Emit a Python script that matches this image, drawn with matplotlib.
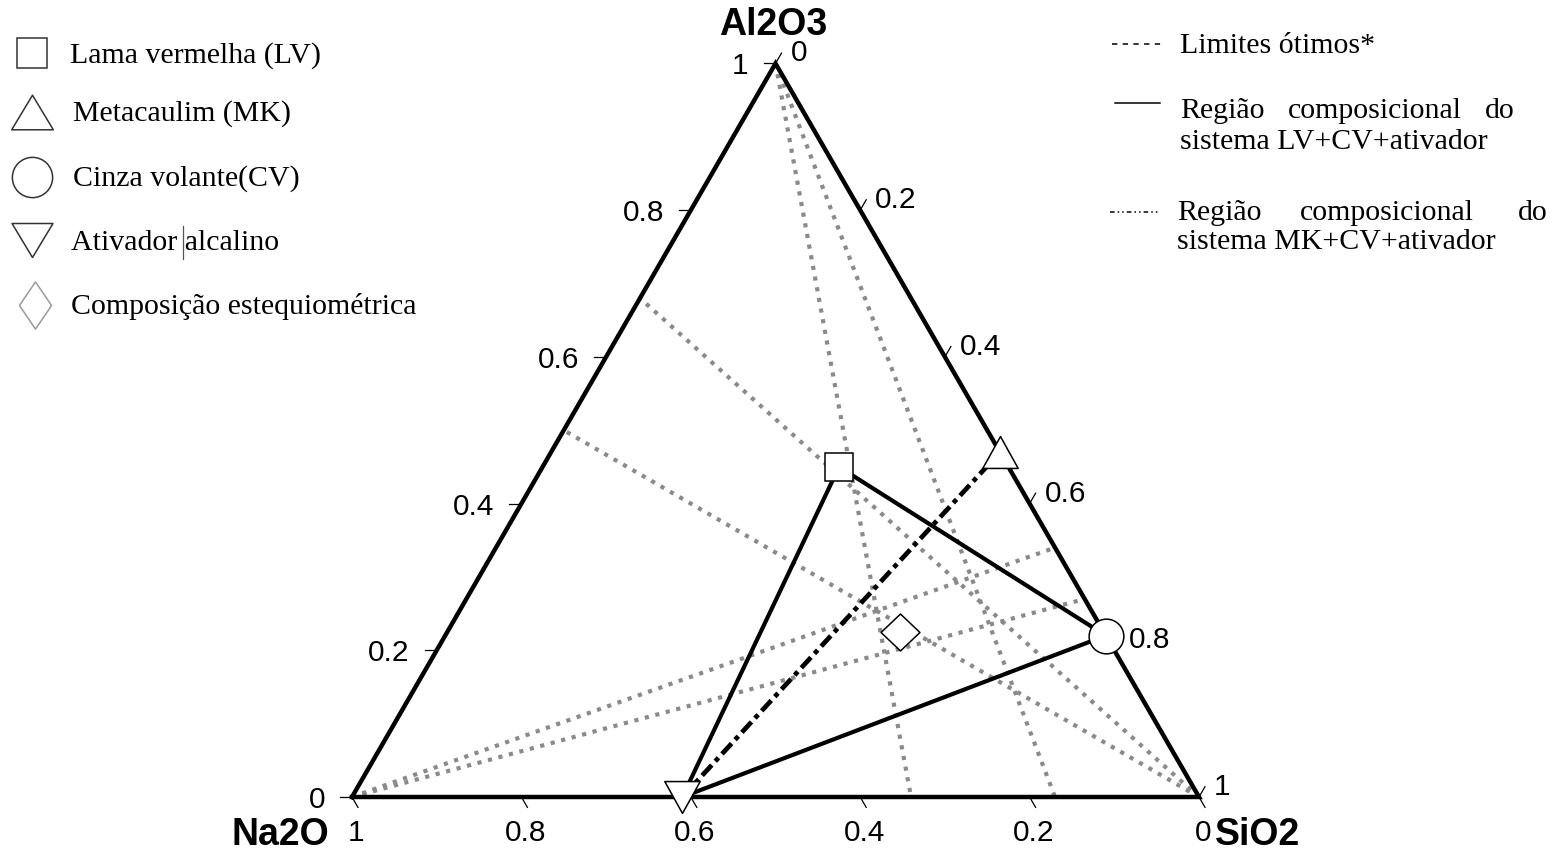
import numpy as np
import matplotlib
matplotlib.use("Agg")
import matplotlib.pyplot as plt
from matplotlib.path import Path

W, H, DPI = 1561, 851, 100

# Oxide compositions (mass fraction of Al2O3 and SiO2; Na2O is the remainder)
materials = ["LV", "MK", "CV", "ATV", "EST"]
mat_al2o3 = [0.450, 0.470, 0.220, 0.000, 0.225]
mat_sio2 = [0.350, 0.530, 0.780, 0.390, 0.534]

# "Limites ótimos": straight limit lines between two compositions
lim_start_al2o3 = [1.00, 1.00, 0.00, 0.00, 0.00, 0.00]
lim_start_sio2 = [0.00, 0.00, 1.00, 1.00, 0.00, 0.00]
lim_end_al2o3 = [0.00, 0.00, 0.68, 0.50, 0.34, 0.27]
lim_end_sio2 = [0.66, 0.83, 0.00, 0.00, 0.66, 0.73]

# Compositional regions
region_lv = ["LV", "CV", "ATV", "LV"]
region_mk = ["ATV", "MK"]

tick_values = [0.0, 0.2, 0.4, 0.6, 0.8, 1.0]
tick_labels = ["0", "0.2", "0.4", "0.6", "0.8", "1"]

legend_left = ["Lama vermelha (LV)", "Metacaulim (MK)", "Cinza volante(CV)",
               "Ativador alcalino", "Composição estequiométrica"]

SQ3 = np.sqrt(3) / 2


def tern(al2o3, sio2):
    """Ternary -> cartesian (Na2O left, SiO2 right, Al2O3 top)."""
    a = np.asarray(al2o3, float)
    s = np.asarray(sio2, float)
    return s + a / 2, a * SQ3


def shape(verts):
    """Closed polygon marker."""
    return Path(list(verts) + [verts[0]], closed=True)


comp = {m: (a, s) for m, a, s in zip(materials, mat_al2o3, mat_sio2)}

fig = plt.figure(figsize=(W / DPI, H / DPI), dpi=DPI)
ax = fig.add_axes([0, 0, 1, 1])
side = 847.0
ox, oy = 352.0, 797.0
ax.set_xlim(-ox / side, (W - ox) / side)
ax.set_ylim(-(H - oy) / side, oy / side)
ax.set_aspect("equal")
ax.axis("off")

# limit lines
for a0, s0, a1, s1 in zip(lim_start_al2o3, lim_start_sio2, lim_end_al2o3, lim_end_sio2):
    x, y = tern([a0, a1], [s0, s1])
    ax.plot(x, y, color="#8a8a8a", lw=3.0, ls=(0, (1, 1.6)), zorder=2,
            solid_capstyle="butt", dash_capstyle="butt")

# triangle frame
fx, fy = tern([0, 0, 1, 0], [0, 1, 0, 0])
ax.plot(fx, fy, color="black", lw=3.2, zorder=3, solid_joinstyle="miter")

# ticks
tl = 12 / side
tick_kw = dict(color="black", lw=0.9, zorder=3)
lab_kw = dict(fontsize=21.5, family="Liberation Sans", color="black",
              textcoords="offset pixels", va="baseline")
for v, lab in zip(tick_values, tick_labels):
    # Al2O3 (left edge)
    x, y = tern(v, 0.0)
    ax.plot([x, x - tl], [y, y], **tick_kw)
    ax.annotate(lab, (x, y), xytext=(-27, -11), ha="right", **lab_kw)
    # Na2O (bottom edge)
    x, y = tern(0.0, 1 - v)
    ax.plot([x, x + tl * 0.5], [y, y - tl * SQ3], **tick_kw)
    ax.annotate(lab, (x, y), xytext=(4, -44), ha="center", **lab_kw)
    # SiO2 (right edge)
    x, y = tern(1 - v, v)
    ax.plot([x, x + tl * 0.5], [y, y + tl * SQ3], **tick_kw)
    ax.annotate(lab, (x, y), xytext=(15, 2), ha="left", **lab_kw)

title_kw = dict(fontsize=27, family="Liberation Sans", fontweight="bold",
                textcoords="offset pixels", va="baseline", ha="center")
ax.annotate("Al2O3", tern(1, 0), xytext=(-2, 28), **title_kw)
ax.annotate("Na2O", tern(0, 0), xytext=(-72, -48), **title_kw)
ax.annotate("SiO2", tern(0, 1), xytext=(59, -48), **title_kw)

# compositional regions
rx, ry = tern([comp[m][0] for m in region_lv], [comp[m][1] for m in region_lv])
ax.plot(rx, ry, color="black", lw=3.0, zorder=4)
mx, my = tern([comp[m][0] for m in region_mk], [comp[m][1] for m in region_mk])
ax.plot(mx, my, color="black", lw=3.4, ls=(0, (3, 1.1, 1, 1.1)), zorder=4,
        dash_capstyle="butt")

# markers
tri_up = shape([(-1, -0.9), (1, -0.9), (0, 0.9)])
tri_dn = shape([(-1, 0.9), (1, 0.9), (0, -0.9)])
diam = shape([(0, 0.95), (1, 0), (0, -0.95), (-1, 0)])
mk_style = {
    "LV": dict(marker="s", ms=20),
    "MK": dict(marker=tri_up, ms=25.5),
    "CV": dict(marker="o", ms=25),
    "ATV": dict(marker=tri_dn, ms=25.5),
    "EST": dict(marker=diam, ms=28),
}
for m in materials:
    x, y = tern(*comp[m])
    ax.plot([x], [y], ls="none", mfc="white", mec="black", mew=1.1, zorder=5,
            **mk_style[m])

# legends in pixel coordinates
lg = fig.add_axes([0, 0, 1, 1])
lg.set_xlim(0, W)
lg.set_ylim(H, 0)
lg.axis("off")

serif = dict(fontsize=21.5, family="Liberation Serif", color="black", va="baseline")

leg_markers = [
    dict(marker="s", ms=21, mec="#333333"),
    dict(marker=shape([(-1, -0.83), (1, -0.83), (0, 0.83)]), ms=30, mec="#333333"),
    dict(marker="o", ms=29, mec="#333333"),
    dict(marker=shape([(-1, 0.83), (1, 0.83), (0, -0.83)]), ms=29.5, mec="#333333"),
    dict(marker=shape([(0, 1), (0.68, 0), (0, -1), (-0.68, 0)]), ms=34, mec="#9a9a9a"),
]
leg_mx = [32, 32, 32, 32, 35]
leg_my = [53, 112, 177, 240, 305]
leg_tx = [70, 73, 73, 71, 71]
leg_ty = [63, 121, 186, 250, 314]
for mkw, mxp, myp, txt, tx, ty in zip(leg_markers, leg_mx, leg_my, legend_left, leg_tx, leg_ty):
    lg.plot([mxp], [myp], ls="none", mfc="white", mew=1.1, **mkw)
    lg.text(tx, ty, txt, **serif)
# text cursor mark between the words
lg.plot([183, 183], [226, 259], color="#555555", lw=0.9)

# right-hand legend
lg.plot([1112, 1162], [44, 44], color="black", lw=1.1, ls=(0, (3.5, 3.5)))
lg.text(1180, 53, "Limites ótimos*", **serif)

lg.plot([1115, 1160], [103, 103], color="black", lw=1.1)
lg.text(1180, 118, "Região", ha="left", **serif)
lg.text(1375, 118, "composicional", ha="center", **serif)
lg.text(1515, 118, "do", ha="right", **serif)
lg.text(1180, 149, "sistema LV+CV+ativador", **serif)

lg.plot([1110, 1160], [212, 212], color="black", lw=1.1, ls=(0, (3, 2, 1, 2, 1, 2)))
lg.text(1177, 220, "Região", ha="left", **serif)
lg.text(1387, 220, "composicional", ha="center", **serif)
lg.text(1548, 220, "do", ha="right", **serif)
lg.text(1177, 249, "sistema MK+CV+ativador", **serif)

fig.savefig("out.png", dpi=DPI, facecolor="white")
